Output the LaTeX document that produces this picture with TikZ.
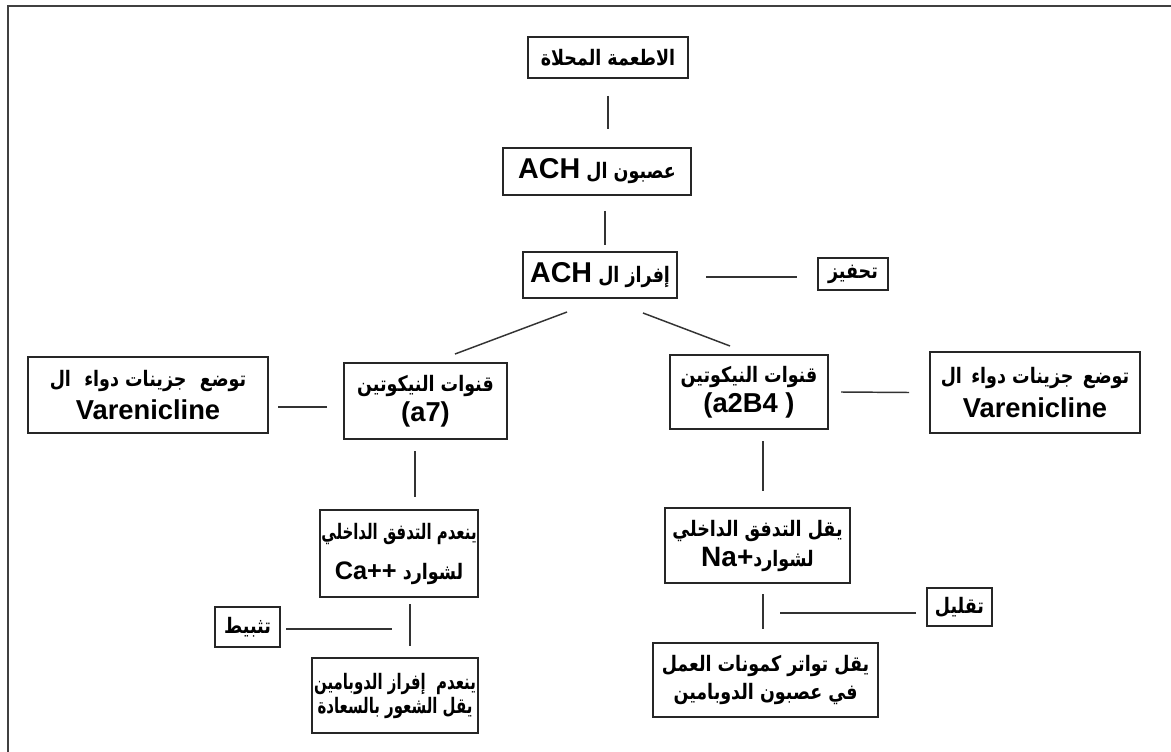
\documentclass[tikz,border=0pt]{standalone}
\usepackage{fontspec}
\setmainfont{Liberation Sans}
\newfontfamily\arfont[Script=Arabic,FakeStretch=0.82]{DejaVu Sans}
\newfontfamily\arnfont[Script=Arabic,FakeStretch=0.70]{DejaVu Sans}
\TeXXeTstate=1
\usetikzlibrary{calc}
\newcommand{\artxt}[1]{{\arfont\bfseries\fontsize{16}{16}\selectfont\beginR #1\endR}}
\newcommand{\arn}[1]{{\arnfont\bfseries\fontsize{16}{16}\selectfont\beginR #1\endR}}
\newcommand{\lat}[2][20.5]{{\rmfamily\bfseries\fontsize{#1}{#1}\selectfont #2}}
\begin{document}
\begin{tikzpicture}[x=0.75pt,y=-0.75pt,
  bx/.style={draw=black!85, line width=1.5pt, align=center, inner sep=1pt},
  wh/.style 2 args={minimum width=#1*0.75pt, minimum height=#2*0.75pt},
  ls/.style={font=\fontsize{10}{#1}\selectfont},
  conn/.style={draw=black!80, line width=1.1pt}]
\useasboundingbox (0,0) rectangle (1171,752);
\fill[white] (0,0) rectangle (1171,752);
\draw[black!75, line width=2pt] (8,752) -- (8,6) -- (1171,6);

\node[bx, wh={160}{41}] (top) at (608,57.5) {\artxt{الاطعمة المحلاة}};
\node[bx, wh={188}{47}] (acn) at (597,171.5) {\artxt{عصبون ال \beginL\lat[21.5]{ACH}\endL}};
\node[bx, wh={154}{46}] (rel) at (600,275) {\artxt{إفراز ال \beginL\lat[21.5]{ACH}\endL}};
\node[bx, wh={70}{32}] (stim) at (853,274) {\artxt{تحفيز}};
\node[bx, wh={163}{76}, ls=22.5pt] (chL) at (425.5,401) {\artxt{قنوات النيكوتين}\\ \lat{(a7)}};
\node[bx, wh={158}{74}, ls=22.5pt] (chR) at (749,392) {\artxt{قنوات النيكوتين}\\ \lat{(a2B4 )}};
\node[bx, wh={240}{76}, ls=25pt] (varL) at (148,395) {\artxt{توضع\hspace{10pt}جزينات دواء\hspace{10pt}ال}\\ \lat{Varenicline}};
\node[bx, wh={210}{81}, ls=25pt] (varR) at (1035,392.5) {\artxt{توضع\hspace{7pt}جزينات دواء\hspace{7pt}ال}\\ \lat{Varenicline}};
\node[bx, wh={158}{87}, ls=30pt] (ca) at (399,553.5) {\arn{ينعدم التدفق الداخلي}\\ \artxt{لشوارد \beginL\lat[19]{Ca++}\endL}};
\node[bx, wh={185}{75}, ls=22.5pt] (na) at (757.5,545.5) {\artxt{يقل التدفق الداخلي}\\ \artxt{لشوارد\beginL\lat[21]{Na+}\endL}};
\node[bx, wh={65}{40}] (inh) at (247.5,627) {\artxt{تثبيط}};
\node[bx, wh={65}{38}] (red) at (959.5,607) {\artxt{تقليل}};
\node[bx, wh={166}{75}, ls=18pt] (dopL) at (395,695.5) {\arn{ينعدم \ إفراز الدوبامين}\\ \arn{يقل الشعور بالسعادة}};
\node[bx, wh={225}{74}, ls=21pt] (dopR) at (765.5,680) {\artxt{يقل تواتر كمونات العمل}\\ \artxt{في عصبون الدوبامين}};

\coordinate (inhEnd) at (392,629);
\coordinate (redEnd) at (780,613);

\draw[conn] ($(top.south)+(0,17)$) -- ($(acn.north)+(11,-18)$);
\draw[conn] ($(acn.south)+(8,15)$) -- ($(rel.north)+(5,-6)$);
\draw[conn] ($(rel.east)+(28,2)$) -- ($(stim.west)+(-20,3)$);
\draw[conn] ($(rel.south)+(-33,13)$) -- ($(chL.north)+(29.5,-8)$);
\draw[conn] ($(rel.south)+(43,14)$) -- ($(chR.north)+(-19,-8)$);
\draw[conn] ($(chL.west)+(-16,6)$) -- ($(varL.east)+(9,12)$);
\draw[conn] ($(chR.east)+(12,0)$) -- ($(varR.west)+(-20,0)$);
\draw[conn] ($(chL.south)+(-10.5,11)$) -- ($(ca.north)+(16,-12)$);
\draw[conn] ($(chR.south)+(14,11)$) -- ($(na.north)+(5.5,-16)$);
\draw[conn] ($(ca.south)+(11,6)$) -- ($(dopL.north)+(15,-11)$);
\draw[conn] ($(inh.east)+(5,2)$) -- (inhEnd);
\draw[conn] ($(red.west)+(-10,6)$) -- (redEnd);
\draw[conn] ($(na.south)+(5.5,10)$) -- ($(dopR.north)+(-2.5,-13)$);
\end{tikzpicture}
\end{document}
